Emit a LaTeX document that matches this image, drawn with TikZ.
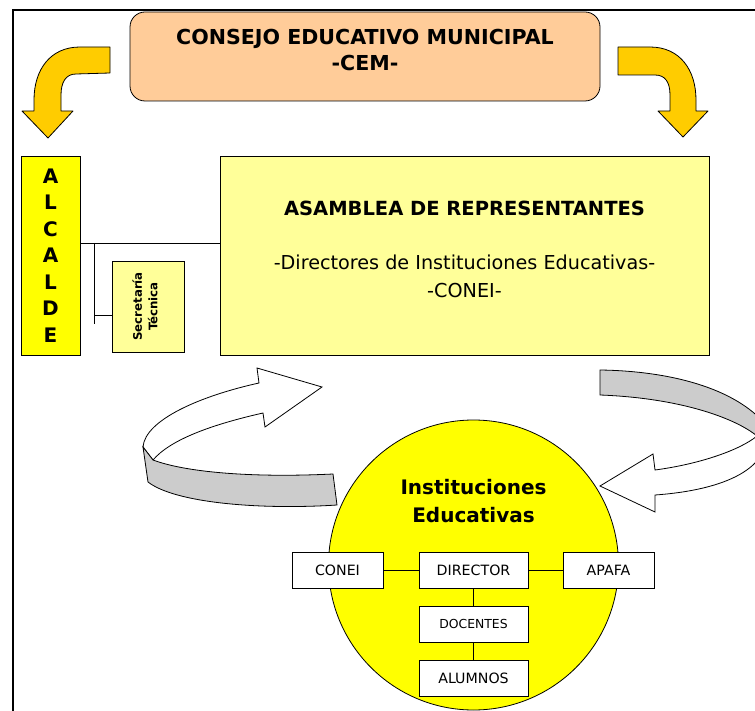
\documentclass[tikz,border=0pt]{standalone}
\usepackage{fontspec}
\setmainfont{DejaVu Sans}
\definecolor{durazno}{HTML}{FFCC99}
\definecolor{oro}{HTML}{FFCC00}
\definecolor{amarillo}{HTML}{FFFF00}
\definecolor{crema}{HTML}{FFFF99}
\definecolor{gris}{HTML}{CCCCCC}
\begin{document}
\begin{tikzpicture}[x=1pt,y=-1pt,
            caja/.style={draw, line width=0.8pt, inner sep=0pt},
            cajita/.style={caja, fill=white, minimum height=36pt, font=\fontsize{14.2}{16}\selectfont},
            flecha/.style={draw, line width=0.8pt, fill=oro, line join=round},
            cinta/.style={draw, line width=0.8pt, line join=miter},
            linea/.style={line width=0.9pt}]
            \clip (0,0) rectangle (755,711);
            \fill[white] (0,0) rectangle (755,711);
            \draw[line width=2pt] (755,10) -- (13,10) -- (13,711);
            \node[caja, fill=durazno, rounded corners=15pt, minimum width=470pt, minimum height=89pt] (cem) at (365,56.5) {};
            \node[align=center, font=\fontsize{20.6}{25.5}\selectfont\bfseries] (cemtexto) at (365,50) {CONSEJO EDUCATIVO MUNICIPAL\\-CEM-};
            \draw[flecha] (110,47) -- (80,47) .. controls (50,47) and (34,70) .. (34,100) -- (34,111) -- (22,111) -- (48,138) -- (73,111) -- (61,111) -- (61,95) .. controls (61,82) and (66,74) .. (76,74) -- (110,73) -- cycle;
            \draw[flecha] (618,47) -- (650,47) .. controls (680,47) and (696,70) .. (696,100) -- (696,111) -- (708,111) -- (683,137) -- (658,111) -- (670,111) -- (670,95) .. controls (670,82) and (665,75) .. (655,75) -- (618,75) -- cycle;
            \node[caja, fill=amarillo, minimum width=59pt, minimum height=199pt, align=center, font=\fontsize{20}{26.5}\selectfont\bfseries] (alcalde) at (50.5,255.5) {A\\L\\C\\A\\L\\D\\E};
            \node[caja, fill=crema, minimum width=489pt, minimum height=199pt] (asamblea) at (464.5,255.5) {};
            \node[font=\fontsize{19.5}{24}\selectfont\bfseries] (asambleatitulo) at (464.5,208) {ASAMBLEA DE REPRESENTANTES};
            \node[align=center, font=\fontsize{19.2}{28}\selectfont] (asambleatexto) at (464.5,276) {-Directores de Instituciones Educativas-\\-CONEI-};
            \node[caja, fill=crema, minimum width=72pt, minimum height=91pt] (secretaria) at (148,306.5) {};
            \node[rotate=90, align=center, font=\fontsize{11.8}{15.5}\selectfont\bfseries] (secretariatexto) at (145,306.5) {Secretaría\\Técnica};
            \coordinate (nudo) at (94,243);
            \coordinate (nudofin) at (94,324);
            \coordinate (rama) at (94,315);
            \draw[linea] (alcalde.east |- nudo) -- (asamblea.west |- nudo);
            \draw[linea] (nudo) -- (nudofin);
            \draw[linea] (rama) -- (secretaria.west |- rama);
            \node[circle, draw, line width=0.8pt, fill=amarillo, minimum size=290pt, inner sep=0pt] (instituciones) at (473.5,565) {};
            \node[align=center, font=\fontsize{20}{28}\selectfont\bfseries] (institucionestexto) at (473.5,501) {Instituciones\\Educativas};
            \draw[cinta, fill=white] (143,447) .. controls (145,420) and (200,396) .. (259,383) -- (257,368) -- (322,387) -- (265,427) -- (263,413) .. controls (210,425) and (170,440) .. (153,460) -- cycle;
            \draw[cinta, fill=gris] (143,447) -- (153,460) .. controls (185,472) and (250,478) .. (333,474) -- (337,505) .. controls (260,510) and (175,503) .. (148,482) -- cycle;
            \draw[cinta, fill=gris] (600,370) .. controls (670,371) and (735,388) .. (766,425) -- (757,436) .. controls (735,418) and (680,398) .. (600,395) -- cycle;
            \draw[cinta, fill=white] (766,425) .. controls (775,468) and (725,490) .. (655,495) -- (655,512) -- (600,486) -- (653,454) -- (655,470) .. controls (700,464) and (740,450) .. (757,436) -- cycle;
            \node[cajita, minimum width=91pt] (conei) at (337.5,570) {CONEI};
            \node[cajita, minimum width=109pt] (director) at (473.5,570) {DIRECTOR};
            \node[cajita, minimum width=91pt] (apafa) at (608.5,570) {APAFA};
            \node[cajita, minimum width=109pt, font=\fontsize{12.4}{14}\selectfont] (docentes) at (473.5,624) {DOCENTES};
            \node[cajita, minimum width=109pt] (alumnos) at (473.5,678) {ALUMNOS};
            \draw[linea] (conei) -- (director);
            \draw[linea] (director) -- (apafa);
            \draw[linea] (director) -- (docentes);
            \draw[linea] (docentes) -- (alumnos);
        \end{tikzpicture}
\end{document}
